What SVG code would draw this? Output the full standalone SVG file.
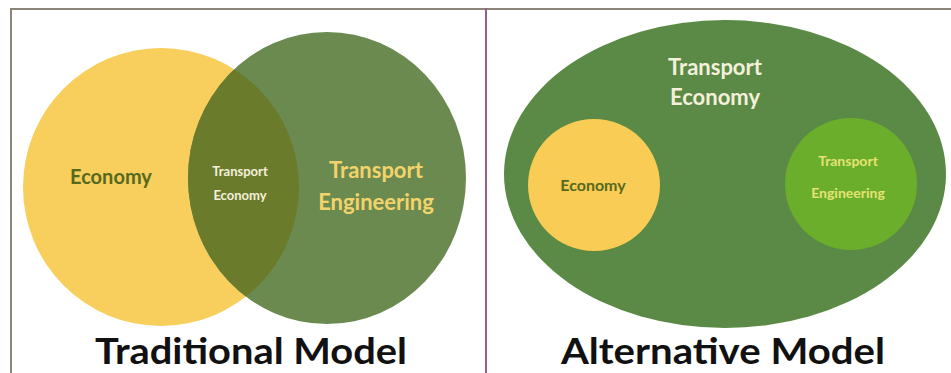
<svg xmlns="http://www.w3.org/2000/svg" width="951" height="373" viewBox="0 0 951 373">
<style>
text{font-family:Lato,"Open Sans","Liberation Sans",sans-serif;font-weight:bold;text-anchor:middle}
.title{font-size:36px;fill:#111}
.dark{fill:#56691c}
.pale{fill:#f4f0dc}
.gold{fill:#f3d46a}
.lime{fill:#e6e274}
</style>
<rect x="0" y="0" width="951" height="373" fill="#ffffff"/>
<g id="frame">
<line x1="10" y1="9" x2="951" y2="9" stroke="#8c8476" stroke-width="2"/>
<line x1="11" y1="8" x2="11" y2="373" stroke="#8c8476" stroke-width="2"/>
<line x1="486" y1="8" x2="486" y2="373" stroke="#8e5e8e" stroke-width="2"/>
</g>
<g id="traditional">
<g id="economy-circle">
<ellipse cx="161" cy="187" rx="138" ry="139" fill="#f8ce5c"/>
</g>
<g id="engineering-circle">
<ellipse cx="327" cy="178" rx="139" ry="146" fill="#6b8a50"/>
</g>
<g id="lens">
<clipPath id="clipY"><ellipse cx="161" cy="187" rx="138" ry="139"/></clipPath>
<ellipse cx="327" cy="178" rx="139" ry="146" fill="#6a7c2c" clip-path="url(#clipY)"/>
</g>
<text class="dark" x="111" y="184" font-size="20">Economy</text>
<text class="pale" x="240" y="176" font-size="13">Transport</text>
<text class="pale" x="240" y="200" font-size="13">Economy</text>
<text class="gold" x="376" y="178" font-size="22">Transport</text>
<text class="gold" x="376" y="210" font-size="22">Engineering</text>
<text class="title" x="251" y="364" textLength="312" lengthAdjust="spacingAndGlyphs">Traditional Model</text>
</g>
<g id="alternative">
<g id="transport-economy">
<ellipse cx="725" cy="174" rx="221" ry="154" fill="#5a8a45"/>
<text class="pale" x="715" y="75" font-size="22">Transport</text>
<text class="pale" x="715" y="105" font-size="22">Economy</text>
</g>
<g id="economy">
<circle cx="594" cy="185" r="66" fill="#f8cc55"/>
<text class="dark" x="593" y="191" font-size="16">Economy</text>
</g>
<g id="transport-engineering">
<circle cx="851" cy="184" r="66" fill="#6aae2b"/>
<text class="lime" x="848" y="166" font-size="14">Transport</text>
<text class="lime" x="848" y="198" font-size="14">Engineering</text>
</g>
<text class="title" x="723" y="364" textLength="324" lengthAdjust="spacingAndGlyphs">Alternative Model</text>
</g>
<g id="connectors"/>
</svg>
